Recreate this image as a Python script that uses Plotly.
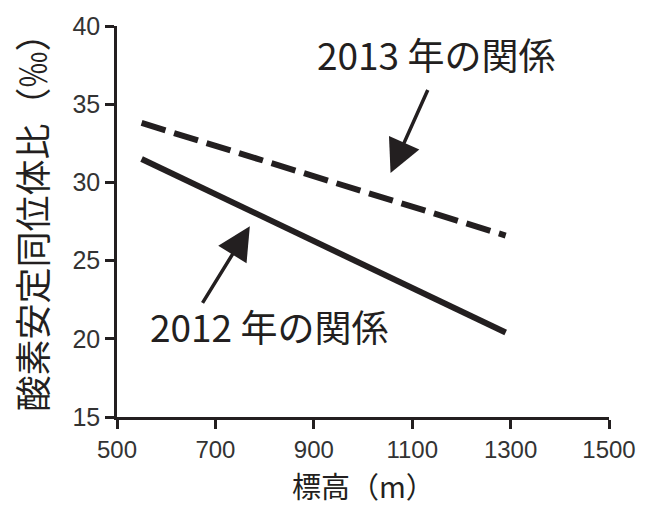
import plotly.graph_objects as go

# Altitude (m) vs. oxygen stable isotope ratio (‰) regression lines
altitude = [550, 1290]
ratio_2012 = [31.5, 20.4]
ratio_2013 = [33.8, 26.6]

x_ticks = [500, 700, 900, 1100, 1300, 1500]
y_ticks = [15, 20, 25, 30, 35, 40]

label_2012 = "2012 年の関係"
label_2013 = "2013 年の関係"
x_title = "標高（m）"
y_title = "酸素安定同位体比（‰）"

INK = "#231f20"
CJK = "Noto Sans CJK JP"

fig = go.Figure()
fig.add_trace(go.Scatter(x=altitude, y=ratio_2013, mode="lines",
                         line=dict(color=INK, width=6, dash="25px,9px"),
                         showlegend=False, hoverinfo="skip"))
fig.add_trace(go.Scatter(x=altitude, y=ratio_2012, mode="lines",
                         line=dict(color=INK, width=6),
                         showlegend=False, hoverinfo="skip"))

annotations = [
    # labels
    dict(x=1148, y=38.2, xref="x", yref="y", text=label_2013, showarrow=False,
         font=dict(family=CJK, size=37, color=INK)),
    dict(x=808, y=20.8, xref="x", yref="y", text=label_2012, showarrow=False,
         font=dict(family=CJK, size=37, color=INK)),
    # arrows pointing at each line
    dict(x=1056, y=30.6, ax=1133, ay=36.0, xref="x", yref="y", axref="x", ayref="y",
         text="", showarrow=True, arrowhead=2, arrowsize=1.9, arrowwidth=3.5,
         arrowcolor=INK),
    dict(x=770, y=27.2, ax=672, ay=22.2, xref="x", yref="y", axref="x", ayref="y",
         text="", showarrow=True, arrowhead=2, arrowsize=1.9, arrowwidth=3.5,
         arrowcolor=INK),
    # axis titles
    dict(x=0.5, y=-0.175, xref="paper", yref="paper", text=x_title, showarrow=False,
         xanchor="center", yanchor="middle", borderpad=0,
         font=dict(family=CJK, size=29, color=INK)),
    dict(x=-0.175, y=0.52, xref="paper", yref="paper", text=y_title, showarrow=False,
         textangle=-90, xanchor="center", yanchor="middle",
         font=dict(family=CJK, size=36, color=INK)),
]

fig.update_layout(
    width=648, height=508,
    margin=dict(l=117, r=35, t=20, b=91),
    paper_bgcolor="white", plot_bgcolor="white",
    annotations=annotations,
    xaxis=dict(range=[500, 1500], tickvals=x_ticks, ticks="outside", ticklen=9,
               tickwidth=2.5, tickcolor=INK, showline=True, linecolor=INK,
               linewidth=2.5, showgrid=False, zeroline=False,
               tickfont=dict(family="Liberation Sans", size=24, color="#333333")),
    yaxis=dict(range=[15, 40], tickvals=y_ticks, ticks="outside", ticklen=9,
               tickwidth=2.5, tickcolor=INK, showline=True, linecolor=INK,
               linewidth=2.5, showgrid=False, zeroline=False,
               tickfont=dict(family="Liberation Sans", size=25, color="#333333")),
)

fig.write_html("out.html")
